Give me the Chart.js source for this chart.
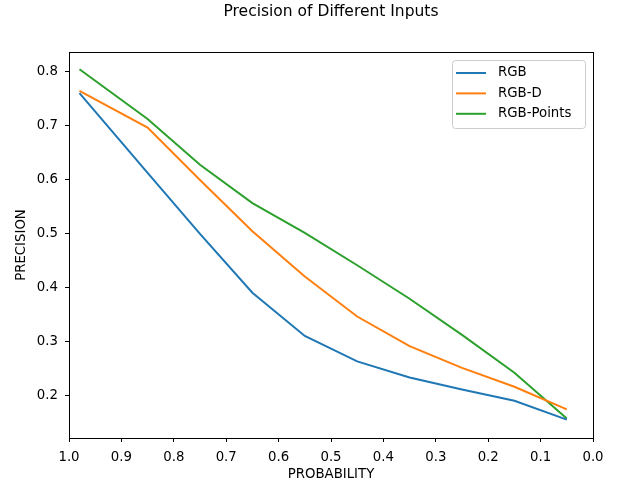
<!DOCTYPE html>
<html>
<head>
<meta charset="utf-8">
<script src="https://cdn.jsdelivr.net/npm/chart.js@4.4.1/dist/chart.umd.min.js"></script>
<style>
  html, body { margin: 0; padding: 0; background: #fff; }
  #wrap { width: 623px; height: 486px; }
</style>
</head>
<body>
<div id="wrap"><canvas id="myChart" width="623" height="486"></canvas></div>
<script>
// datos
const probabilidad = [0.98, 0.85, 0.75, 0.65, 0.55, 0.45, 0.35, 0.25, 0.15, 0.05];
const rgb = [0.761, 0.613, 0.500, 0.391, 0.311, 0.264, 0.234, 0.212, 0.191, 0.156];
const rgbD = [0.765, 0.697, 0.600, 0.505, 0.421, 0.347, 0.292, 0.252, 0.217, 0.175];
const rgbPoints = [0.805, 0.713, 0.628, 0.557, 0.502, 0.442, 0.380, 0.313, 0.243, 0.158];
const xTicks = [1.0, 0.9, 0.8, 0.7, 0.6, 0.5, 0.4, 0.3, 0.2, 0.1, 0.0];
const yTicks = [0.2, 0.3, 0.4, 0.5, 0.6, 0.7, 0.8];
const series = ['RGB', 'RGB-D', 'RGB-Points'];
const colores = ['#1f77b4', '#ff7f0e', '#2ca02c'];

const fuente = 'DejaVu Sans';
const tam = 13.3;
const toPts = vals => vals.map((v, i) => ({ x: probabilidad[i], y: v }));

// marco, titulo y leyenda estilo matplotlib
const extras = {
  id: 'extras',
  afterDraw(chart) {
    const { ctx, chartArea: a } = chart;
    ctx.save();
    ctx.strokeStyle = '#000';
    ctx.lineWidth = 1;
    ctx.strokeRect(a.left + 0.5, a.top + 0.5, a.right - a.left, a.bottom - a.top);

    ctx.fillStyle = '#000';
    ctx.font = '15.5px "' + fuente + '"';
    ctx.textAlign = 'center';
    ctx.textBaseline = 'middle';
    ctx.fillText('Precision of Different Inputs', (a.left + a.right) / 2, 12);

    // leyenda
    const bx = 452, by = 60, bw = 133, bh = 68;
    ctx.fillStyle = 'rgba(255,255,255,0.8)';
    ctx.strokeStyle = '#cccccc';
    ctx.beginPath();
    ctx.roundRect(bx + 0.5, by + 0.5, bw, bh, 3);
    ctx.fill();
    ctx.stroke();
    ctx.font = tam + 'px "' + fuente + '"';
    ctx.textAlign = 'left';
    series.forEach((s, i) => {
      const y = by + 13 + i * 20.4;
      ctx.strokeStyle = colores[i];
      ctx.lineWidth = 2;
      ctx.beginPath();
      ctx.moveTo(bx + 4, y);
      ctx.lineTo(bx + 34, y);
      ctx.stroke();
      ctx.fillStyle = '#000';
      ctx.fillText(s, bx + 46, y);
    });
    ctx.restore();
  }
};

const ctx = document.getElementById('myChart');

const myChart = new Chart(ctx, {
  type: 'line',
  data: {
    datasets: series.map((s, i) => ({
      label: s,
      data: toPts([rgb, rgbD, rgbPoints][i]),
      borderColor: colores[i],
      backgroundColor: colores[i],
      borderWidth: 2,
      pointRadius: 0,
      tension: 0,
      fill: false
    }))
  },
  options: {
    responsive: false,
    animation: false,
    layout: { padding: { top: 52, right: 30, left: 0, bottom: 0 } },
    plugins: {
      legend: { display: false },
      title: { display: false },
      tooltip: { enabled: false }
    },
    scales: {
      x: {
        type: 'linear',
        reverse: true,
        min: 0,
        max: 1,
        afterBuildTicks: axis => { axis.ticks = xTicks.map(v => ({ value: v })); },
        afterFit: axis => { axis.height = 48; },
        ticks: {
          color: '#000',
          font: { family: fuente, size: tam },
          padding: 8,
          maxRotation: 0,
          autoSkip: false,
          callback: v => v.toFixed(1)
        },
        grid: { drawOnChartArea: false, drawTicks: true, tickLength: 4, color: '#000' },
        border: { display: true, color: '#000' },
        title: {
          display: true,
          text: 'PROBABILITY',
          color: '#000',
          font: { family: fuente, size: tam },
          padding: { top: 2, bottom: 3 }
        }
      },
      y: {
        type: 'linear',
        min: 0.122,
        max: 0.837,
        afterBuildTicks: axis => { axis.ticks = yTicks.map(v => ({ value: v })); },
        afterFit: axis => { axis.width = 69; },
        ticks: {
          color: '#000',
          font: { family: fuente, size: tam },
          padding: 7,
          autoSkip: false,
          callback: v => v.toFixed(1)
        },
        grid: { drawOnChartArea: false, drawTicks: true, tickLength: 4, color: '#000' },
        border: { display: true, color: '#000' },
        title: {
          display: true,
          text: 'PRECISION',
          color: '#000',
          font: { family: fuente, size: tam },
          padding: { top: 14, bottom: 0 }
        }
      }
    }
  },
  plugins: [extras]
});
</script>
</body>
</html>
